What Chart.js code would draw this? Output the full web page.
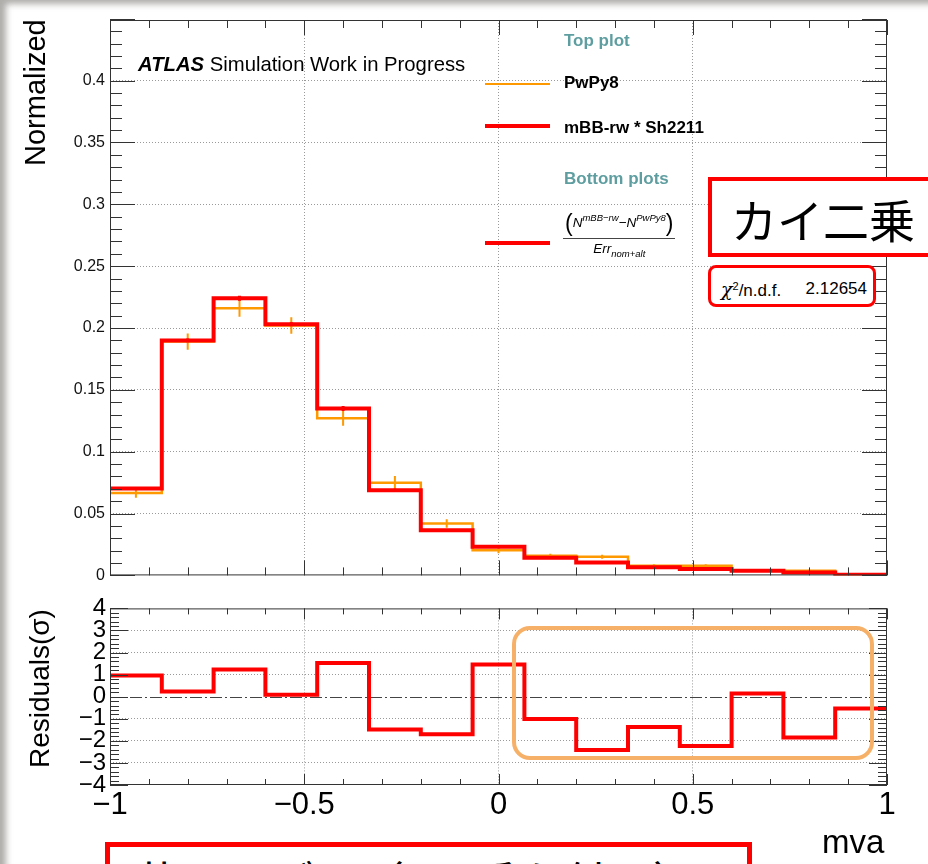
<!DOCTYPE html>
<html>
<head>
<meta charset="utf-8">
<script src="https://cdn.jsdelivr.net/npm/chart.js@4.4.1/dist/chart.umd.min.js"></script>
<style>
  html, body { margin: 0; padding: 0; background: #fff; }
  body { width: 928px; height: 864px; position: relative; overflow: hidden;
         font-family: "Liberation Sans", Arial, sans-serif; }
  canvas { position: absolute; left: 0; }
  #topCanvas { top: 0; }
  #resCanvas { top: 590px; }
  .t { position: absolute; white-space: nowrap; line-height: 1; color: #000; }
  .rot { transform: rotate(-90deg); transform-origin: left top; }
  .teal { color: #5f9ea0; font-weight: bold; font-size: 17px; }
  .leg { font-weight: bold; font-size: 17px; }
  .sample { position: absolute; left: 485px; width: 65px; }
  .box { position: absolute; box-sizing: border-box; }
  #shade { position: absolute; left: 0; top: 0; width: 928px; height: 864px; pointer-events: none;
           box-shadow: inset 7px 5px 6px -1px rgba(110, 105, 100, 0.55); }
  .frac { position: absolute; left: 563px; top: 212px; font-family: "Liberation Sans", Arial, sans-serif;
          font-style: italic; font-size: 13.5px; text-align: center; line-height: 1; }
  .frac .num { border-bottom: 1px solid #444; padding: 0 2px 3px 2px; }
  .frac .num .par { font-style: normal; font-size: 23px; font-weight: 100; vertical-align: -4px; }
  .frac sup { font-size: 9.5px; vertical-align: 6px; }
  .frac sub { font-size: 9.5px; vertical-align: -4px; }
  .frac .den { padding-top: 3px; }
</style>
</head>
<body>
<canvas id="topCanvas" width="928" height="590"></canvas>
<canvas id="resCanvas" width="928" height="274"></canvas>

<!-- axis titles -->
<div class="t rot" style="left:21px; top:166px; font-size:29px;">Normalized</div>
<div class="t rot" style="left:26px; top:768px; font-size:28px;">Residuals(σ)</div>
<div class="t" style="left:822px; top:825px; font-size:33px;">mva</div>

<!-- ATLAS label -->
<div class="t" style="left:138px; top:54px; font-size:20.3px;"><b><i>ATLAS</i></b> Simulation Work in Progress</div>

<!-- legend -->
<div class="t teal" style="left:564px; top:32px;">Top plot</div>
<div class="sample" style="top:83px; height:2px; background:#ff9900;"></div>
<div class="t leg" style="left:564px; top:74px;">PwPy8</div>
<div class="sample" style="top:124px; height:4px; background:#ff0000;"></div>
<div class="t leg" style="left:564px; top:119px;">mBB-rw * Sh2211</div>
<div class="t teal" style="left:564px; top:170px;">Bottom plots</div>
<div class="sample" style="top:241px; height:4px; background:#ff0000;"></div>
<div class="frac">
  <div class="num"><span class="par">(</span>N<sup>mBB−rw</sup>−N<sup>PwPy8</sup><span class="par">)</span></div>
  <div class="den">Err<sub>nom+alt</sub></div>
</div>

<!-- annotations -->
<div class="box" style="left:708px; top:177px; width:240px; height:80px; border:4px solid #ff0000; background:#fff;"></div>
<div class="t" style="left:731px; top:195px; font-size:46px; font-family:'Noto Sans CJK JP', sans-serif;">カイ二乗</div>
<div class="box" style="left:708px; top:265px; width:168px; height:42px; border:3px solid #ff0000; border-radius:8px; background:#fff;"></div>
<div class="t" style="left:721px; top:280px; font-size:17px;"><i style="font-family:'DejaVu Serif', serif; font-size:19px;">χ</i><sup style="font-size:11px; vertical-align:6px;">2</sup>/n.d.f.</div>
<div class="t" style="left:800px; width:67px; top:280px; font-size:17px; text-align:right;">2.12654</div>
<div class="box" style="left:512px; top:626px; width:362px; height:134px; border:4px solid #f7b068; border-radius:18px;"></div>
<div class="box" style="left:105px; top:842px; width:647px; height:80px; border:5px solid #ff0000; background:#fff;"></div>
<div class="t" style="left:134px; top:858px; font-size:45px; font-family:'Noto Sans CJK JP', sans-serif;">昔のモデル（χ二乗を付け）</div>

<div id="shade"></div>

<script>
// ---- Datos -------------------------------------------------------------

const xMin  = -1;
const xMax  = 1;
const nBins = 15;

// Top plot: normalized mva distributions
const pwpy8    = [0.0667, 0.189, 0.216, 0.202, 0.127, 0.0748, 0.0419, 0.0204, 0.0159, 0.0151, 0.0078, 0.0078, 0.0040, 0.0038, 0.0008];
const pwpy8Err = [0.0040, 0.0065, 0.0070, 0.0067, 0.0060, 0.0056, 0.0034, 0.0024, 0.0016, 0.0016, 0.0012, 0.0012, 0.0008, 0.0008, 0.0004];
const mbbSh    = [0.0702, 0.190, 0.224, 0.203, 0.135, 0.0688, 0.0366, 0.0231, 0.0143, 0.0105, 0.0065, 0.0051, 0.0038, 0.0024, 0.0006];
const mbbShErr = [0.0012, 0.0016, 0.0020, 0.0016, 0.0020, 0.0012, 0.0008, 0.0006, 0.0005, 0.0004, 0.0003, 0.0003, 0.0002, 0.0002, 0.0001];

// Bottom plot: residuals in sigma
const residuals = [0.96, 0.24, 1.23, 0.09, 1.53, -1.49, -1.70, 1.46, -1.01, -2.42, -1.37, -2.23, 0.15, -1.85, -0.53];

// Tick labels
const xMajorTicks = [-1, -0.5, 0, 0.5, 1];
const topYTicks   = [0, 0.05, 0.1, 0.15, 0.2, 0.25, 0.3, 0.35, 0.4];
const resYTicks   = [-4, -3, -2, -1, 0, 1, 2, 3, 4];

const binEdges   = Array.from({ length: nBins + 1 }, (_, i) => xMin + i * (xMax - xMin) / nBins);
const binCenters = binEdges.slice(0, nBins).map((e, i) => (e + binEdges[i + 1]) / 2);

// histogram as step line: one point per low edge + closing point at xMax
const stepPoints = vals => binEdges.map((e, i) => ({ x: e, y: vals[Math.min(i, vals.length - 1)] }));

const minus = v => (v < 0 ? '\u2212' + Math.abs(v) : String(v));

Chart.defaults.font.family = "'Liberation Sans', Arial, sans-serif";
Chart.defaults.color = '#111';

// ---- Plugin estilo ROOT: marco, ticks interiores, barras de error ------

const rootFrame = {
    id: 'rootFrame',
    beforeDatasetsDraw(chart, args, o) {
        if (!o.zeroLine) return;
        const { ctx, chartArea: a, scales: { y } } = chart;
        const py = Math.round(y.getPixelForValue(0)) + 0.5;
        ctx.save();
        ctx.strokeStyle = '#444';
        ctx.lineWidth = 1;
        ctx.setLineDash([12, 3, 2, 3]);
        ctx.beginPath();
        ctx.moveTo(a.left, py);
        ctx.lineTo(a.right, py);
        ctx.stroke();
        ctx.restore();
    },
    afterDatasetDraw(chart, args) {
        const ds = chart.data.datasets[args.index];
        if (!ds.errors) return;
        const { ctx, scales: { x, y } } = chart;
        ctx.save();
        ctx.strokeStyle = ds.borderColor;
        ctx.lineWidth = ds.errWidth;
        ctx.beginPath();
        ds.errors.forEach((e, i) => {
            const cx = x.getPixelForValue(binCenters[i]);
            ctx.moveTo(cx, y.getPixelForValue(ds.values[i] - e));
            ctx.lineTo(cx, y.getPixelForValue(ds.values[i] + e));
        });
        ctx.stroke();
        ctx.restore();
    },
    afterDraw(chart, args, o) {
        const { ctx, chartArea: a, scales: { x, y } } = chart;
        ctx.save();
        ctx.strokeStyle = '#333';
        ctx.lineWidth = 1;
        ctx.beginPath();
        const nx = Math.round((x.max - x.min) / o.xMinor);
        for (let k = 0; k <= nx; k++) {
            const len = k % o.xEvery === 0 ? o.xLen[0] : o.xLen[1];
            const px = Math.round(x.getPixelForValue(x.min + k * o.xMinor)) + 0.5;
            ctx.moveTo(px, a.bottom); ctx.lineTo(px, a.bottom - len);
            ctx.moveTo(px, a.top);    ctx.lineTo(px, a.top + len);
        }
        const ny = Math.round((o.yTop - y.min) / o.yMinor);
        for (let k = 0; k <= ny; k++) {
            const len = k % o.yEvery === 0 ? o.yLen[0] : o.yLen[1];
            const py = Math.round(y.getPixelForValue(y.min + k * o.yMinor)) + 0.5;
            ctx.moveTo(a.left, py);  ctx.lineTo(a.left + len, py);
            ctx.moveTo(a.right, py); ctx.lineTo(a.right - len, py);
        }
        ctx.stroke();
        ctx.strokeRect(a.left + 0.5, a.top + 0.5, a.right - a.left - 1, a.bottom - a.top - 1);
        ctx.restore();
    }
};

const hideAt = vals => c => (c.tick && vals.includes(c.tick.value) ? 'rgba(0,0,0,0)' : '#9a9a9a');

// ---- Gráfica superior ---------------------------------------------------

new Chart(document.getElementById('topCanvas'), {
    type: 'line',
    data: {
        datasets: [
            {
                label: 'mBB-rw * Sh2211',
                data: stepPoints(mbbSh),
                values: mbbSh,
                errors: mbbShErr,
                errWidth: 3,
                borderColor: '#ff0000',
                borderWidth: 4,
                borderJoinStyle: 'miter',
                stepped: true,
                pointRadius: 0,
                order: 0
            },
            {
                label: 'PwPy8',
                data: stepPoints(pwpy8),
                values: pwpy8,
                errors: pwpy8Err,
                errWidth: 2,
                borderColor: '#ff9900',
                borderWidth: 2.5,
                borderJoinStyle: 'miter',
                stepped: true,
                pointRadius: 0,
                order: 1
            }
        ]
    },
    options: {
        responsive: false,
        animation: false,
        layout: { padding: { top: 20, right: 41, left: 0, bottom: 0 } },
        plugins: {
            legend: { display: false },
            tooltip: { enabled: false },
            rootFrame: { xMinor: 0.1, xEvery: 5, xLen: [15, 8], yTop: 0.449, yMinor: 0.01, yEvery: 5, yLen: [25, 12] }
        },
        scales: {
            x: {
                type: 'linear', min: xMin, max: xMax,
                afterBuildTicks: s => { s.ticks = xMajorTicks.map(v => ({ value: v })); },
                afterFit: s => { s.height = 13; },
                ticks: { display: false },
                grid: { drawTicks: false, color: hideAt([-1, 1]) },
                border: { display: false, dash: [1, 2] }
            },
            y: {
                min: 0, max: 0.449,
                afterBuildTicks: s => { s.ticks = topYTicks.map(v => ({ value: v })); },
                afterFit: s => { s.width = 110; },
                ticks: { autoSkip: false, padding: 5, font: { size: 16 }, color: '#111', callback: v => String(v) },
                grid: { drawTicks: false, color: hideAt([0]) },
                border: { display: false, dash: [1, 2] }
            }
        }
    },
    plugins: [rootFrame]
});

// ---- Gráfica de residuos ------------------------------------------------

new Chart(document.getElementById('resCanvas'), {
    type: 'line',
    data: {
        datasets: [{
            label: 'residuals',
            data: stepPoints(residuals),
            borderColor: '#ff0000',
            borderWidth: 4,
            borderJoinStyle: 'miter',
            stepped: true,
            pointRadius: 0
        }]
    },
    options: {
        responsive: false,
        animation: false,
        layout: { padding: { top: 18, right: 41, left: 0, bottom: 0 } },
        plugins: {
            legend: { display: false },
            tooltip: { enabled: false },
            rootFrame: { zeroLine: true, xMinor: 0.1, xEvery: 5, xLen: [11, 6], yTop: 4, yMinor: 0.2, yEvery: 5, yLen: [18, 9] }
        },
        scales: {
            x: {
                type: 'linear', min: xMin, max: xMax,
                afterBuildTicks: s => { s.ticks = xMajorTicks.map(v => ({ value: v })); },
                afterFit: s => { s.height = 79; },
                ticks: { autoSkip: false, maxRotation: 0, padding: 2, font: { size: 31 }, color: '#000', callback: minus },
                grid: { drawTicks: false, color: hideAt([-1, 1]) },
                border: { display: false, dash: [1, 2] }
            },
            y: {
                min: -4, max: 4,
                afterBuildTicks: s => { s.ticks = resYTicks.map(v => ({ value: v })); },
                afterFit: s => { s.width = 110; },
                ticks: { autoSkip: false, padding: 4, font: { size: 24 }, color: '#000', callback: minus },
                grid: { drawTicks: false, color: hideAt([-4, 0, 4]) },
                border: { display: false, dash: [1, 2] }
            }
        }
    },
    plugins: [rootFrame]
});
</script>
</body>
</html>
